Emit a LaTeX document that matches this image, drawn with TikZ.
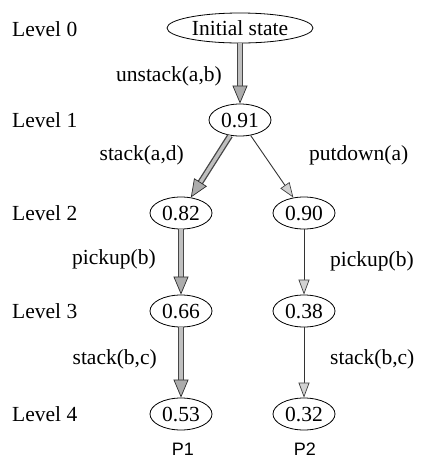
\documentclass[tikz,border=0pt]{standalone}
\usepackage{fontspec}
\setmainfont{Liberation Serif}
\newfontfamily\sansf{Liberation Sans}
\usetikzlibrary{shapes.geometric,arrows.meta}
\tikzset{
  txt/.style={font=\fontsize{21.5}{24}\selectfont, inner sep=0pt},
  state/.style={ellipse, draw, line width=0.8pt, minimum width=62pt, minimum height=32pt, inner sep=0pt, font=\fontsize{21.5}{24}\selectfont},
  plabel/.style={font=\sansf\fontsize{18}{20}\selectfont, inner sep=0pt},
  hout/.style={line width=6pt, draw=gray!55!black, shorten >=14pt},
  hin/.style={line width=3.4pt, draw=gray!50, shorten >=14pt},
  htip/.style={line width=0.4pt, draw=gray!50, -{Triangle[length=18pt,width=15pt,fill=gray!65,color=gray!35!black,line width=0.7pt]}},
  thin/.style={line width=0.9pt, draw=black!80, -{Triangle[length=15pt,width=11pt,fill=gray!35,color=gray!50!black,line width=0.7pt]}}
}
\newcommand\heavyarrow[2]{%
  \draw[hout] (#1) -- (#2);
  \draw[hin] (#1) -- (#2);
  \draw[htip] (#1) -- (#2);}
\begin{document}
\begin{tikzpicture}[x=1pt,y=-1pt]
\useasboundingbox (0,0) rectangle (421,459);
\clip (0,0) rectangle (421,459);
% level labels
\node[txt, anchor=west] (l0) at (12,29) {Level 0};
\node[txt, anchor=west] (l1) at (12,120) {Level 1};
\node[txt, anchor=west] (l2) at (12,213) {Level 2};
\node[txt, anchor=west] (l3) at (12,311) {Level 3};
\node[txt, anchor=west] (l4) at (12,414) {Level 4};
% states
\node[state, minimum width=146pt, minimum height=30pt] (init) at (240,28) {Initial state};
\node[state] (n1) at (240,120) {0.91};
\node[state] (n2a) at (181,213) {0.82};
\node[state] (n2b) at (304,213) {0.90};
\node[state] (n3a) at (181,311) {0.66};
\node[state] (n3b) at (304,311) {0.38};
\node[state] (n4a) at (181,414) {0.53};
\node[state] (n4b) at (304,414) {0.32};
\node[plabel] (p1) at (183,449) {P1};
\node[plabel] (p2) at (305,449) {P2};
% edges
\heavyarrow{init}{n1}
\heavyarrow{n1}{n2a}
\heavyarrow{n2a}{n3a}
\heavyarrow{n3a}{n4a}
\draw[thin] (n1) -- (n2b);
\draw[thin] (n2b) -- (n3b);
\draw[thin] (n3b) -- (n4b);
% edge labels
\node[txt, anchor=east] (e1) at (222,76) {unstack(a,b)};
\node[txt, anchor=east] (e2) at (184,155) {stack(a,d)};
\node[txt, anchor=west] (e3) at (309,155) {putdown(a)};
\node[txt, anchor=east] (e4) at (156,259) {pickup(b)};
\node[txt, anchor=west] (e5) at (330,261) {pickup(b)};
\node[txt, anchor=east] (e6) at (157,359) {stack(b,c)};
\node[txt, anchor=west] (e7) at (330,359) {stack(b,c)};
\end{tikzpicture}
\end{document}
